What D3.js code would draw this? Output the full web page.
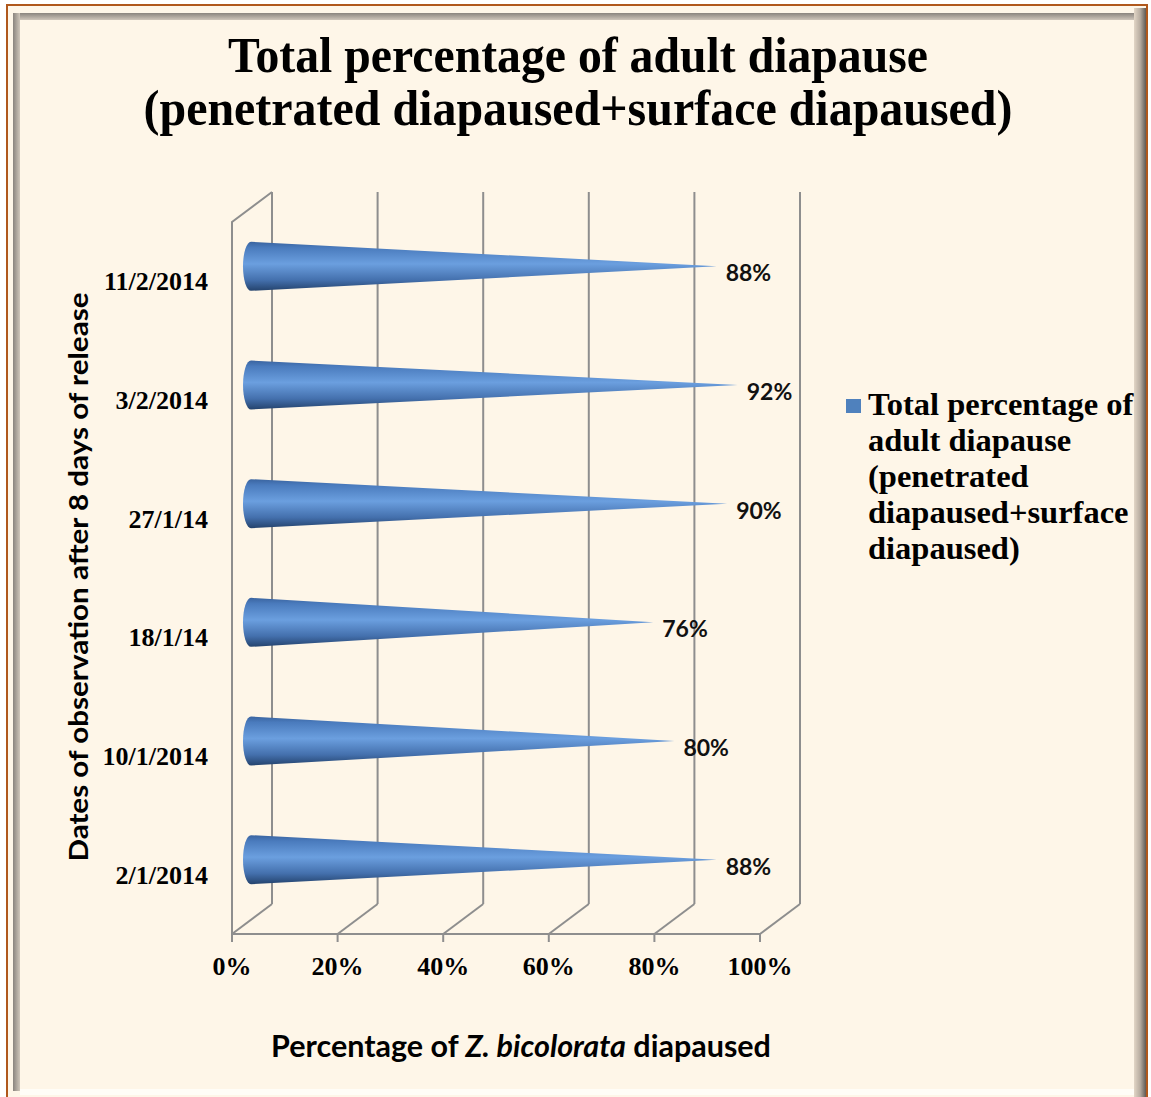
<!DOCTYPE html>
<html>
<head>
<meta charset="utf-8">
<script src="https://cdn.jsdelivr.net/npm/d3@7"></script>
<style>
  body { margin: 0; background: #fff; }
  svg { display: block; }
</style>
</head>
<body>
<div id="chart"></div>
<script>
// data, bottom row first
var dates = ["2/1/2014", "10/1/2014", "18/1/14", "27/1/14", "3/2/2014", "11/2/2014"];
var totalDiapause = [0.88, 0.80, 0.76, 0.90, 0.92, 0.88];
var xTicks = [0, 0.2, 0.4, 0.6, 0.8, 1.0];
var titleLines = ["Total percentage of adult diapause", "(penetrated diapaused+surface diapaused)"];
var legendLines = ["Total percentage of", "adult diapause", "(penetrated", "diapaused+surface", "diapaused)"];

var W = 1151, H = 1097;
var depthX = 40, depthY = -30;   // 3d offset front -> back wall
var coneR = 24.5;

var svg = d3.select("#chart").append("svg")
    .attr("width", W)
    .attr("height", H);

var defs = svg.append("defs");

var cg = defs.append("linearGradient").attr("id", "cone")
    .attr("x1", 0).attr("y1", 0).attr("x2", 0).attr("y2", 1);
cg.append("stop").attr("offset", "0%").attr("stop-color", "#3a64a0");
cg.append("stop").attr("offset", "12%").attr("stop-color", "#4a7bbd");
cg.append("stop").attr("offset", "45%").attr("stop-color", "#6b9fdf");
cg.append("stop").attr("offset", "78%").attr("stop-color", "#4470ad");
cg.append("stop").attr("offset", "100%").attr("stop-color", "#24436d");

var gv = defs.append("linearGradient").attr("id", "bevelV")
    .attr("x1", 0).attr("y1", 0).attr("x2", 0).attr("y2", 1);
gv.append("stop").attr("offset", "0%").attr("stop-color", "#8a847e");
gv.append("stop").attr("offset", "100%").attr("stop-color", "#cfc6ba");
var gh = defs.append("linearGradient").attr("id", "bevelH")
    .attr("x1", 0).attr("y1", 0).attr("x2", 1).attr("y2", 0);
gh.append("stop").attr("offset", "0%").attr("stop-color", "#8a847e");
gh.append("stop").attr("offset", "100%").attr("stop-color", "#cfc6ba");
var gr = defs.append("linearGradient").attr("id", "bevelR")
    .attr("x1", 0).attr("y1", 0).attr("x2", 1).attr("y2", 0);
gr.append("stop").attr("offset", "0%").attr("stop-color", "#e2d6c6");
gr.append("stop").attr("offset", "50%").attr("stop-color", "#b9aea2");
gr.append("stop").attr("offset", "100%").attr("stop-color", "#5f5a55");

// frame
svg.append("rect")
    .attr("x", 7).attr("y", 5).attr("width", 1140).attr("height", 1100)
    .attr("fill", "#fef6e8")
    .attr("stroke", "#b0581c").attr("stroke-width", 2);
svg.append("rect").attr("x", 13).attr("y", 13).attr("width", 1122).attr("height", 7).attr("fill", "url(#bevelV)");
svg.append("rect").attr("x", 13).attr("y", 13).attr("width", 7).attr("height", 1078).attr("fill", "url(#bevelH)");
svg.append("rect").attr("x", 1134).attr("y", 8).attr("width", 12).attr("height", 1090).attr("fill", "url(#bevelR)");
svg.append("rect").attr("x", 20).attr("y", 1089).attr("width", 1114).attr("height", 6).attr("fill", "#fffdf7");

// scales
var x = d3.scaleLinear().domain([0, 1]).range([232, 760]);
var y = d3.scaleBand().domain(dates).range([934, 222]);

var grid = svg.append("g")
    .attr("fill", "none")
    .attr("stroke", "#8e8e8e")
    .attr("stroke-width", 2);

// left wall
grid.append("path")
    .attr("d", "M" + x(0) + "," + y.range()[0] + "V" + y.range()[1] +
        "l" + depthX + "," + depthY);
// back wall verticals
grid.selectAll(".back").data(xTicks).enter().append("line")
    .attr("x1", function(d){ return x(d) + depthX; })
    .attr("x2", function(d){ return x(d) + depthX; })
    .attr("y1", y.range()[1] + depthY)
    .attr("y2", y.range()[0] + depthY);
// floor
grid.append("line")
    .attr("x1", x(0)).attr("x2", x(1))
    .attr("y1", y.range()[0]).attr("y2", y.range()[0]);
grid.selectAll(".floor").data(xTicks).enter().append("line")
    .attr("x1", function(d){ return x(d); })
    .attr("x2", function(d){ return x(d) + depthX; })
    .attr("y1", y.range()[0])
    .attr("y2", y.range()[0] + depthY);
grid.selectAll(".tick").data(xTicks).enter().append("line")
    .attr("x1", function(d){ return x(d); })
    .attr("x2", function(d){ return x(d); })
    .attr("y1", y.range()[0])
    .attr("y2", y.range()[0] + 8);

// tick labels
svg.selectAll(".xlab").data(xTicks).enter().append("text")
    .attr("x", function(d){ return x(d); })
    .attr("y", 975)
    .attr("text-anchor", "middle")
    .attr("font-family", "Liberation Serif")
    .attr("font-weight", "bold")
    .attr("font-size", 26)
    .text(function(d){ return Math.round(d * 100) + "%"; });

svg.selectAll(".ylab").data(dates).enter().append("text")
    .attr("x", 208)
    .attr("y", function(d){ return y(d) + y.bandwidth() / 2 + 9; })
    .attr("text-anchor", "end")
    .attr("font-family", "Liberation Serif")
    .attr("font-weight", "bold")
    .attr("font-size", 26)
    .text(function(d){ return d; });

// cones sit half way into the depth
var rows = dates.map(function(d, i){ return {date: d, value: totalDiapause[i]}; });
var baseX = x(0) + depthX / 2 - 1;
function cy(d){ return y(d.date) + y.bandwidth() / 2 + depthY / 2; }

svg.selectAll(".cone").data(rows).enter().append("path")
    .attr("fill", "url(#cone)")
    .attr("d", function(d){
      var tip = x(d.value) + depthX / 2;
      var c = cy(d);
      return "M" + baseX + "," + (c - coneR) +
        "L" + tip + "," + c +
        "L" + baseX + "," + (c + coneR) +
        "A8," + coneR + " 0 0 1 " + baseX + "," + (c - coneR) + "Z";
    });

svg.selectAll(".val").data(rows).enter().append("text")
    .attr("x", function(d){ return x(d.value) + depthX / 2 + 9; })
    .attr("y", function(d){ return cy(d) + 15; })
    .attr("font-family", "Lato")
    .attr("font-weight", "bold")
    .attr("font-size", 23)
    .attr("fill", "#111")
    .text(function(d){ return Math.round(d.value * 100) + "%"; });

// title
var titleW = [700, 869];
svg.selectAll(".title").data(titleLines).enter().append("text")
    .attr("x", 578)
    .attr("y", function(d, i){ return 72 + i * 53; })
    .attr("text-anchor", "middle")
    .attr("font-family", "Liberation Serif")
    .attr("font-weight", "bold")
    .attr("font-size", 50)
    .attr("textLength", function(d, i){ return titleW[i]; })
    .attr("lengthAdjust", "spacingAndGlyphs")
    .text(function(d){ return d; });

// axis titles
svg.append("text")
    .attr("transform", "translate(88,577) rotate(-90)")
    .attr("text-anchor", "middle")
    .attr("font-family", "Lato")
    .attr("font-weight", "bold")
    .attr("font-size", 27)
    .attr("textLength", 569)
    .attr("lengthAdjust", "spacingAndGlyphs")
    .text("Dates of observation after 8 days of release");

var xt = svg.append("text")
    .attr("x", 521)
    .attr("y", 1057)
    .attr("text-anchor", "middle")
    .attr("font-family", "Lato")
    .attr("font-weight", "bold")
    .attr("font-size", 30.5);
xt.append("tspan").text("Percentage of ");
xt.append("tspan").attr("font-style", "italic").text("Z. bicolorata");
xt.append("tspan").text(" diapaused");

// legend
svg.append("rect")
    .attr("x", 846).attr("y", 399).attr("width", 15).attr("height", 14)
    .attr("fill", "#4f81bd");
svg.selectAll(".leg").data(legendLines).enter().append("text")
    .attr("x", 868)
    .attr("y", function(d, i){ return 415 + i * 36; })
    .attr("font-family", "Liberation Serif")
    .attr("font-weight", "bold")
    .attr("font-size", 32.5)
    .text(function(d){ return d; });
</script>
</body>
</html>
